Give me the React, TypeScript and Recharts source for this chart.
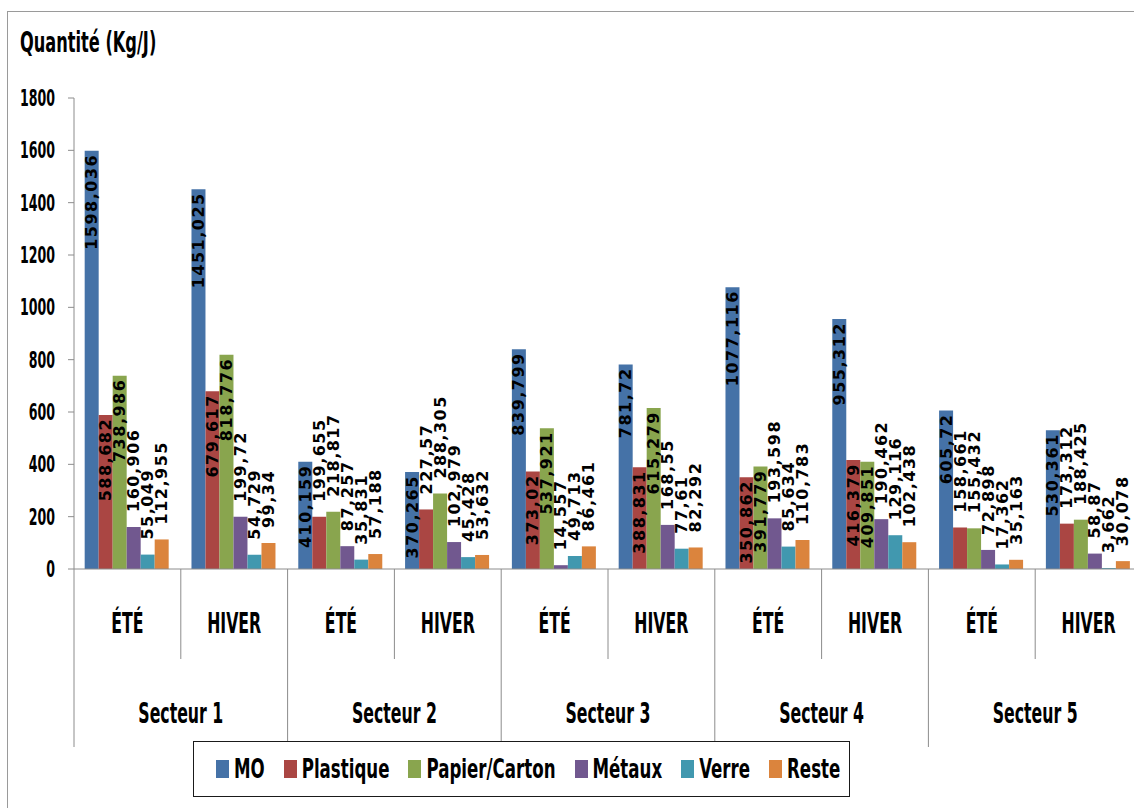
import React from 'react';
import { BarChart, Bar, XAxis, YAxis, LabelList, Legend } from 'recharts';

// categories (two-level x axis)
const seasons = ['ÉTÉ', 'HIVER', 'ÉTÉ', 'HIVER', 'ÉTÉ', 'HIVER', 'ÉTÉ', 'HIVER', 'ÉTÉ', 'HIVER'];
const sectors = ['Secteur 1', 'Secteur 1', 'Secteur 2', 'Secteur 2', 'Secteur 3', 'Secteur 3', 'Secteur 4', 'Secteur 4', 'Secteur 5', 'Secteur 5'];

// series values (Kg/J)
const mo = [1598.036, 1451.025, 410.159, 370.265, 839.799, 781.72, 1077.116, 955.312, 605.72, 530.361];
const plastique = [588.682, 679.617, 199.655, 227.57, 373.02, 388.831, 350.862, 416.379, 158.661, 173.312];
const papierCarton = [738.986, 818.776, 218.817, 288.305, 537.921, 615.279, 391.779, 409.851, 155.432, 188.425];
const metaux = [160.906, 199.72, 87.257, 102.979, 14.557, 168.55, 193.598, 190.462, 72.898, 58.87];
const verre = [55.049, 54.729, 35.831, 45.428, 49.713, 77.61, 85.634, 129.116, 17.362, 3.662];
const reste = [112.955, 99.34, 57.188, 53.632, 86.461, 82.292, 110.783, 102.438, 35.163, 30.078];

const yTicks = [0, 200, 400, 600, 800, 1000, 1200, 1400, 1600, 1800];

const series = [
  { key: 'MO', color: '#4572A7', values: mo },
  { key: 'Plastique', color: '#AA4643', values: plastique },
  { key: 'Papier/Carton', color: '#89A54E', values: papierCarton },
  { key: 'Métaux', color: '#71588F', values: metaux },
  { key: 'Verre', color: '#4198AF', values: verre },
  { key: 'Reste', color: '#DB843D', values: reste },
];

const data = seasons.map((season, i) => {
  const row: any = { season, sector: sectors[i] };
  series.forEach((s) => (row[s.key] = s.values[i]));
  return row;
});

const W = 1150;
const H = 808;
const M = { top: 98, right: 8, left: 10, bottom: 61 };
const Y_W = 64;
const PLOT_W = W - M.left - M.right - Y_W;
const CAT_W = PLOT_W / seasons.length;
const SEC_W = CAT_W * 2;

const CAL = "'Liberation Sans Narrow', 'DejaVu Sans Condensed', 'Roboto', sans-serif";
const GRID = '#8c8c8c';

// vertical stretch around a baseline, to mimic the tall narrow labels
const stretch = (y: number, s: number) => `translate(0 ${y}) scale(1 ${s}) translate(0 ${-y})`;

function BarValueLabel(props: any) {
  const vb = props.viewBox || props;
  const { x, y, width, height } = vb;
  const value = props.value;
  if (value == null || x == null) return null;
  const text = String(value).replace('.', ',');
  const nDigits = text.replace(',', '').length;
  const len = nDigits * 11.1 + (text.includes(',') ? 6 : 0) + text.length * 1.5;
  const top = Math.min(y, y + height);
  const h = Math.abs(height);
  const cx = x + width / 2;
  const inside = h >= len + 4;
  const ty = inside ? top + 3 : top - 15;
  return (
    <text
      x={cx}
      y={ty}
      transform={`rotate(-90 ${cx} ${ty})`}
      textAnchor={inside ? 'end' : 'start'}
      dominantBaseline="central"
      fontFamily="'DejaVu Sans', sans-serif"
      fontWeight="bold"
      fontSize={16}
      letterSpacing={1.5}
      fill="#000"
    >
      {text}
    </text>
  );
}

function YTick({ x, y, payload }: any) {
  return (
    <text x={x} y={y} transform={stretch(y, 1.65)} textAnchor="end" dominantBaseline="central"
      fontFamily={CAL} fontWeight="bold" fontSize={14} fill="#000">
      {payload.value}
    </text>
  );
}

// season labels + separators at category boundaries
function SeasonTick({ x, y, payload }: any) {
  const lx = x - CAT_W / 2;
  return (
    <g>
      <line x1={lx} y1={y} x2={lx} y2={y + 90} stroke={GRID} strokeWidth={1} />
      <text x={x} y={y + 64} transform={stretch(y + 64, 1.65)} textAnchor="middle"
        fontFamily={CAL} fontWeight="bold" fontSize={17.5} fill="#000">
        {payload.value}
      </text>
    </g>
  );
}

function SectorTick({ x, y, payload }: any) {
  const lx = x - SEC_W / 2;
  return (
    <g>
      <line x1={lx} y1={y} x2={lx} y2={y + 88} stroke={GRID} strokeWidth={1} />
      <text x={x} y={y + 64} transform={stretch(y + 64, 1.65)} textAnchor="middle"
        fontFamily={CAL} fontWeight="bold" fontSize={17.5} fill="#000">
        {payload.value}
      </text>
    </g>
  );
}

function LegendBox() {
  return (
    <div
      style={{
        width: 657,
        height: 56,
        boxSizing: 'border-box',
        border: '1.5px solid #1a1a1a',
        display: 'flex',
        alignItems: 'center',
        paddingLeft: 22,
        background: '#fff',
      }}
    >
      {series.map((s) => (
        <div key={s.key} style={{ display: 'flex', alignItems: 'center', marginRight: 19 }}>
          <span style={{ width: 13, height: 18, background: s.color, marginRight: 5, display: 'inline-block' }} />
          <span
            style={{
              fontFamily: CAL,
              fontWeight: 'bold',
              fontSize: 18.5,
              color: '#000',
              display: 'inline-block',
              transform: 'scaleY(1.45)',
              lineHeight: '20px',
            }}
          >
            {s.key}
          </span>
        </div>
      ))}
    </div>
  );
}

export default function App() {
  return (
    <div style={{ position: 'absolute', left: 0, top: 0, width: 1134, height: 808, overflow: 'hidden', background: '#fff' }}>
      <div style={{ position: 'absolute', left: 7, top: 11, width: 1150, height: 810, border: '1px solid #9a9a9a' }} />
      <div
        style={{
          position: 'absolute',
          left: 20,
          top: 28,
          fontFamily: CAL,
          fontWeight: 'bold',
          fontSize: 18,
          lineHeight: '18px',
          transform: 'scaleY(1.6)',
          transformOrigin: 'left top',
          color: '#000',
        }}
      >
        Quantité (Kg/J)
      </div>
      <div style={{ position: 'absolute', left: 0, top: 0 }}>
        <BarChart width={W} height={H} data={data} margin={M} barCategoryGap="10%" barGap={0}>
          <YAxis
            width={Y_W}
            domain={[0, 1800]}
            ticks={yTicks}
            interval={0}
            axisLine={{ stroke: GRID }}
            tickLine={{ stroke: GRID }}
            tickSize={6}
            tickMargin={13}
            tick={<YTick />}
          />
          <XAxis
            dataKey="season"
            height={90}
            interval={0}
            axisLine={{ stroke: GRID }}
            tickLine={false}
            tickSize={0}
            tickMargin={0}
            tick={<SeasonTick />}
          />
          <XAxis
            xAxisId="sector"
            dataKey="sector"
            allowDuplicatedCategory={false}
            height={88}
            interval={0}
            axisLine={false}
            tickLine={false}
            tickSize={0}
            tickMargin={0}
            tick={<SectorTick />}
          />
          <Legend
            layout="horizontal"
            verticalAlign="middle"
            align="center"
            content={<LegendBox />}
            wrapperStyle={{ left: 193, top: 741, width: 657, height: 56 }}
          />
          {series.map((s) => (
            <Bar key={s.key} dataKey={s.key} fill={s.color} isAnimationActive={false}>
              <LabelList dataKey={s.key} content={<BarValueLabel />} />
            </Bar>
          ))}
        </BarChart>
      </div>
    </div>
  );
}
